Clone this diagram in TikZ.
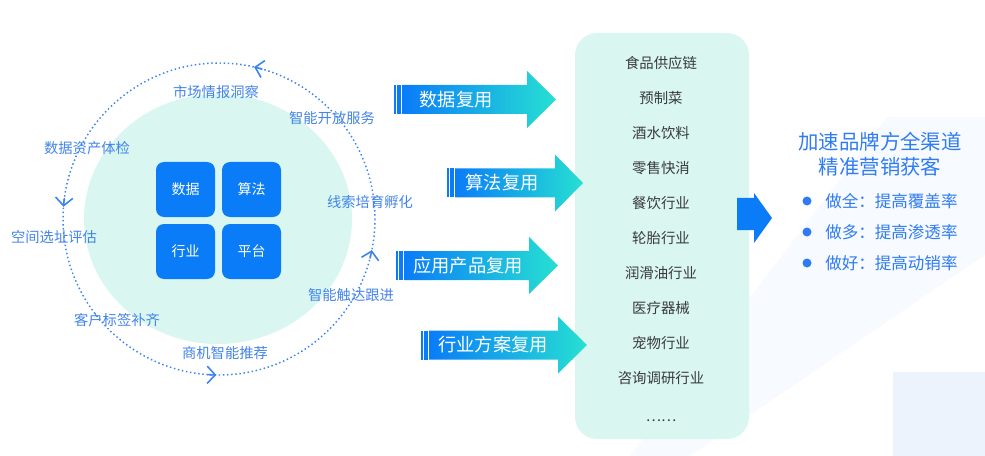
\documentclass[tikz,border=0pt]{standalone}
\usepackage{fontspec}
\setmainfont{Noto Sans CJK SC}
\usetikzlibrary{arrows.meta}

\definecolor{mint}{HTML}{D9F7F0}
\definecolor{brandblue}{HTML}{0A7CF8}
\definecolor{reuseteal}{HTML}{26E0D2}
\definecolor{ringblue}{HTML}{3C84EE}
\definecolor{labelblue}{HTML}{4283E8}
\definecolor{itemgray}{HTML}{3A3A3A}
\definecolor{titleblue}{HTML}{2F7CF2}
\definecolor{haze}{HTML}{F7FAFE}
\definecolor{hazebox}{HTML}{EDF3FD}

\begin{document}
\begin{tikzpicture}[
    x=0.75pt, y=-0.75pt,
    ring/.style      = {line width=1.1pt, ringblue, dash pattern=on 1.1pt off 2pt},
    ringtip/.style   = {line width=1.2pt, ringblue, line cap=round,
                        -{Straight Barb[length=6pt, width=13pt]}},
    stage/.style     = {text=labelblue, font=\fontsize{10.7}{12}\selectfont},
    core/.style      = {fill=brandblue, rounded corners=6pt, inner sep=0pt,
                        minimum width=44.25pt, minimum height=41.25pt,
                        text=white, font=\fontsize{10.5}{12}\selectfont},
    reuse/.style     = {left color=brandblue, right color=reuseteal},
    reusetext/.style = {text=white, font=\fontsize{13.7}{15}\selectfont},
    listbox/.style   = {fill=mint, rounded corners=16.5pt, inner sep=0pt,
                        minimum width=130.5pt, minimum height=304.5pt},
    item/.style      = {text=itemgray, font=\fontsize{10.8}{12}\selectfont},
    goal/.style      = {text=titleblue, align=center,
                        font=\fontsize{15.3}{18.8}\selectfont},
    gain/.style      = {text=titleblue, inner sep=0pt, anchor=west,
                        font=\fontsize{12.4}{14}\selectfont},
  ]
  \useasboundingbox (0,0) rectangle (985,456);

  % --- faint background planes ----------------------------------------------
  \fill[haze] (887,117) -- (985,117) -- (985,255) -- (690,456) -- (630,456) -- cycle;
  \fill[hazebox] (893,372) rectangle (985,456);

  % --- capability loop --------------------------------------------------------
  \fill[mint] (218,219) ellipse [x radius=134, y radius=125];
  \draw[ring] (219,219) circle [radius=156];
  % y runs downwards, so an on-screen angle a is written as -a here
  \foreach \a in {77, 175.5, 269, 348.5} {
    \draw[ringtip] (219,219) ++(-\a+3:156) arc (-\a+3:-\a:156);
  }

  \node[stage] (market)     at (216, 92)  {市场情报洞察};
  \node[stage] (openserv)   at (332,118)  {智能开放服务};
  \node[stage] (assetcheck) at ( 87,148)  {数据资产体检};
  \node[stage] (leads)      at (370,202)  {线索培育孵化};
  \node[stage] (siteeval)   at ( 54,237)  {空间选址评估};
  \node[stage] (reach)      at (351,295)  {智能触达跟进};
  \node[stage] (tagfill)    at (117,320)  {客户标签补齐};
  \node[stage] (oppo)       at (225,353)  {商机智能推荐};

  % --- four core blocks -------------------------------------------------------
  \node[core] (sqdata) at (185.5,189.5) {数据};
  \node[core] (sqalgo) at (251.5,189.5) {算法};
  \node[core] (sqind)  at (185.5,251.5) {行业};
  \node[core] (sqplat) at (251.5,251.5) {平台};

  % --- industry list ----------------------------------------------------------
  \node[listbox] (industries) at (662,236) {};
  \foreach \t [count=\i from 0] in {食品供应链, 预制菜, 酒水饮料, 零售快消,
      餐饮行业, 轮胎行业, 润滑油行业, 医疗器械, 宠物行业, 咨询调研行业} {
    \node[item] (ind\i) at (661, 63+35*\i) {\t};
  }
  \node[item] (indmore) at (661,421) {……};

  % --- reuse arrows: bar x / head x / tip x / mid y / label x ----------------
  \foreach \bx/\hx/\tx/\yc/\lx/\name/\txt in {
      394/527/556/99.5/456/datareuse/数据复用,
      447/555/583/183/502/algoreuse/算法复用,
      396/529/558/265.5/468/appreuse/应用产品复用,
      421/558/587/345/493/planreuse/行业方案复用} {
    \fill[brandblue] (\bx,\yc-14.5) rectangle (\bx+2,\yc+14.5);
    \fill[brandblue] (\bx+3,\yc-14.5) rectangle (\bx+7,\yc+14.5);
    \shade[reuse] (\bx+8,\yc-14.5) -- (\hx,\yc-14.5) -- (\hx,\yc-28.5)
      -- (\tx,\yc) -- (\hx,\yc+28.5) -- (\hx,\yc+14.5) -- (\bx+8,\yc+14.5) -- cycle;
    \node[reusetext] (\name) at (\lx,\yc) {\txt};
  }

  % --- result -----------------------------------------------------------------
  \fill[brandblue] (737,198) -- (754,198) -- (754,193) -- (772,218)
    -- (754,243) -- (754,230) -- (737,230) -- cycle;
  \node[goal] (goal) at (880,154.5) {加速品牌方全渠道\\精准营销获客};
  \foreach \t [count=\i from 0] in {做全：提高覆盖率, 做多：提高渗透率, 做好：提高动销率} {
    \fill[titleblue] (807, 201+31*\i) circle [radius=4.5];
    \node[gain] (gain\i) at (825, 201+31*\i) {\t};
  }

\end{tikzpicture}
\end{document}
